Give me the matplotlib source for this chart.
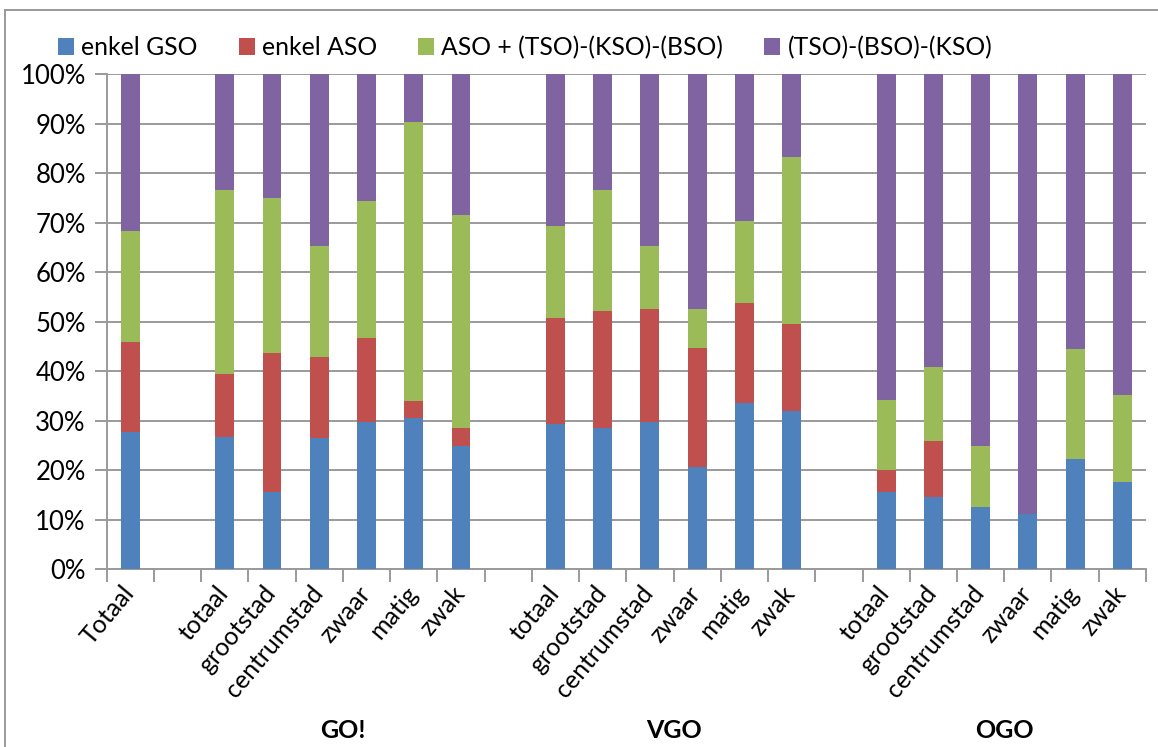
import numpy as np
import matplotlib
matplotlib.use('Agg')
import matplotlib.pyplot as plt
import matplotlib.transforms as mtransforms
from matplotlib.patches import Patch
from matplotlib.lines import Line2D

plt.rcParams['font.family'] = ['Lato', 'DejaVu Sans']

# categorieën (lege strings = witruimte tussen de groepen)
categories = ['Totaal', '',
              'totaal', 'grootstad', 'centrumstad', 'zwaar', 'matig', 'zwak', '',
              'totaal', 'grootstad', 'centrumstad', 'zwaar', 'matig', 'zwak', '',
              'totaal', 'grootstad', 'centrumstad', 'zwaar', 'matig', 'zwak']
groups = ['GO!', 'VGO', 'OGO']

# aandelen in % per categorie
enkel_gso = [27.7, 0,
             26.7, 15.6, 26.5, 29.8, 30.6, 25.0, 0,
             29.4, 28.6, 29.7, 20.7, 33.5, 32.0, 0,
             15.7, 14.7, 12.5, 11.1, 22.2, 17.6]
enkel_aso = [18.3, 0,
             12.8, 28.1, 16.3, 17.0, 3.3, 3.6, 0,
             21.4, 23.5, 22.8, 24.1, 20.2, 17.6, 0,
             4.3, 11.2, 0, 0, 0, 0]
aso_plus = [22.4, 0,
            37.1, 31.3, 22.5, 27.7, 56.4, 42.9, 0,
            18.5, 24.5, 12.8, 7.8, 16.7, 33.6, 0,
            14.3, 14.9, 12.5, 0, 22.3, 17.7]
tso_bso_kso = [31.6, 0,
               23.4, 25.0, 34.7, 25.5, 9.7, 28.5, 0,
               30.7, 23.4, 34.7, 47.4, 29.6, 16.8, 0,
               65.7, 59.2, 75.0, 88.9, 55.5, 64.7]

series = [
    ('enkel GSO', enkel_gso, '#4F81BD'),
    ('enkel ASO', enkel_aso, '#C0504D'),
    ('ASO + (TSO)-(KSO)-(BSO)', aso_plus, '#9BBB59'),
    ('(TSO)-(BSO)-(KSO)', tso_bso_kso, '#8064A2'),
]

grid_col = '#9a9a9a'
fs = 18

fig = plt.figure(figsize=(11.58, 7.47), dpi=100)
ax = fig.add_axes([0.0921, 0.2379, 0.8975, 0.6626])

x = np.arange(len(categories))
bottom = np.zeros(len(categories))
handles = []
for name, vals, col in series:
    vals = np.array(vals, dtype=float)
    ax.bar(x, vals, 0.4, bottom=bottom, color=col, zorder=3)
    bottom += vals
    handles.append(Patch(facecolor=col, label=name))

ax.set_xlim(-0.5, len(categories) - 0.5)
ax.set_ylim(0, 100)
ax.set_yticks(np.arange(0, 101, 10))
ax.set_yticklabels([f'{v}%' for v in range(0, 101, 10)], fontsize=18.5)
ax.yaxis.grid(True, color=grid_col, lw=1.4, zorder=0)

# labels in het midden van elke categorie, streepjes op de grenzen
ax.set_xticks(x)
ax.set_xticklabels(categories, rotation=50, ha='right', fontsize=fs)
ax.tick_params(axis='x', which='major', length=0, pad=9)
shift = mtransforms.ScaledTranslation(8 / 100, 0, fig.dpi_scale_trans)
for lbl in ax.get_xticklabels():
    lbl.set_transform(lbl.get_transform() + shift)
ax.set_xticks(np.arange(-0.5, len(categories)), minor=True)
ax.tick_params(axis='x', which='minor', length=9, color=grid_col, width=1.4)
ax.tick_params(axis='y', length=9, color=grid_col, width=1.4, pad=6)

for s in ['top', 'right']:
    ax.spines[s].set_visible(False)
for s in ['left', 'bottom']:
    ax.spines[s].set_color(grid_col)
    ax.spines[s].set_linewidth(1.4)

# groepsnamen onder de categorieën
group_centers = [4.5, 11.5, 18.5]
for g, c in zip(groups, group_centers):
    ax.text(c, -32.6, g, ha='center', va='center', fontsize=fs,
            fontweight='bold', clip_on=False)

fig.legend(handles=handles, loc='upper left', bbox_to_anchor=(0.0415, 0.965),
           ncol=4, frameon=False, fontsize=17.8, handlelength=0.65, handleheight=0.65,
           handletextpad=0.3, columnspacing=1.65, borderaxespad=0)

# rand van het grafiekgebied
fig.add_artist(Line2D([5 / 1158, 1], [1 - 10 / 747] * 2, color=grid_col, lw=1.4))
fig.add_artist(Line2D([5 / 1158] * 2, [0, 1 - 10 / 747], color=grid_col, lw=1.4))

fig.savefig('out.png', dpi=100)
